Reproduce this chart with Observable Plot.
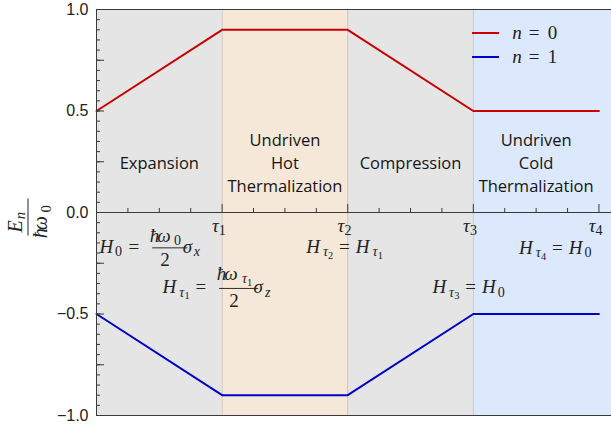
<!DOCTYPE html>
<html><head><meta charset="utf-8">
<script src="https://cdn.jsdelivr.net/npm/d3@7"></script>
<script src="https://cdn.jsdelivr.net/npm/@observablehq/plot@0.6"></script>
<style>html,body{margin:0;padding:0;background:#fff}svg{display:block}</style>
</head><body><div id="chart"></div>
<script>
// ---- data ----
const times = [0, 1, 2, 3, 4];
const energyN0 = [0.5, 0.9, 0.9, 0.5, 0.5];
const energyN1 = [-0.5, -0.9, -0.9, -0.5, -0.5];
const seriesLabels = ["n = 0", "n = 1"];
const seriesColors = ["#c80000", "#0000c8"];
const phaseStart = [0, 1, 2, 3];
const phaseEnd = [1, 2, 3, 4.1];
const phaseLabels = ["Expansion", "Undriven\nHot\nThermalization", "Compression", "Undriven\nCold\nThermalization"];
const phaseFills = ["#e5e5e5", "#f6e8d8", "#e5e5e5", "#dce8fc"];
const tauTicks = [1, 2, 3, 4];
const tauLabels = ["τ_1", "τ_2", "τ_3", "τ_4"];
const yTickValues = [-1, -0.5, 0, 0.5, 1];
const hamText = ["H_0=\\frac{ħω_0}{2}σ_x", "H_{τ_1}=\\frac{ħω_{τ_1}}{2}σ_z", "H_{τ_2}=H_{τ_1}", "H_{τ_3}=H_0", "H_{τ_4}=H_0"];
const hamX = [0.47, 1.0, 2.02, 3.01, 3.7];
const hamY = [-0.2, -0.4, -0.2, -0.4, -0.205];
const yLabelTeX = "\\frac{E_n}{ħω_0}";

// ---- build ----
const lines = seriesLabels.map((s, k) => times.map((t, i) => ({t, e: (k === 0 ? energyN0 : energyN1)[i]})));
const phases = phaseStart.map((x1, i) => ({x1, x2: phaseEnd[i], label: phaseLabels[i], fill: phaseFills[i]}));
const quarterTicks = d3.range(1, 17).map(v => v / 4).filter(v => !tauTicks.includes(v));
const ySmall = d3.range(-20, 21).map(v => v / 20);
const yLarge = d3.range(-4, 5).map(v => v / 4);
const axisColor = "#3a3a3a";

const chart = Plot.plot({
  width: 611, height: 430,
  marginLeft: 96, marginRight: 0, marginTop: 9, marginBottom: 15,
  x: {domain: [0, 4.1], axis: null},
  y: {domain: [-1, 1], label: null},
  color: {type: "identity"},
  style: {background: "#fff", fontFamily: "Liberation Sans", fontSize: "16px", color: "#222"},
  marks: [
    Plot.rect(phases, {x1: "x1", x2: "x2", y1: -1, y2: 1, fill: "fill"}),
    Plot.ruleX(phaseStart.slice(1), {stroke: "#cfc6bc", strokeWidth: 1}),
    Plot.text(phases, {x: d => (d.x1 + Math.min(d.x2, 4)) / 2, y: 0.25, text: "label", lineHeight: 1.4,
      fontFamily: "Open Sans", fontSize: 16.5, fill: "#151515"}),
    ...lines.map((data, k) => Plot.line(data, {x: "t", y: "e", stroke: seriesColors[k], strokeWidth: 2})),
    Plot.ruleY([0], {stroke: axisColor, strokeWidth: 1}),
    Plot.ruleX(quarterTicks, {y1: 0, y2: 0, insetTop: -4, stroke: axisColor}),
    Plot.ruleX(tauTicks, {y1: 0, y2: 0, insetTop: -8, stroke: axisColor}),
    Plot.ruleY(ySmall, {x1: 0, x2: 0, insetRight: -4, stroke: axisColor}),
    Plot.ruleY(yLarge, {x1: 0, x2: 0, insetRight: -8, stroke: axisColor}),
    Plot.ruleX([0], {stroke: axisColor}),
    Plot.ruleY([-1, 1], {stroke: axisColor}),
    Plot.axisY(yTickValues, {tickSize: 0, tickPadding: 8, fontSize: 16, fontFamily: "Liberation Sans", fill: "#222",
      tickFormat: d => (d < 0 ? "\u2212" : "") + Math.abs(d).toFixed(1), label: null})
  ]
});
document.getElementById("chart").append(chart);

// ---- tiny math layout (one <text> per run, tspans inside) ----
function parse(s) {
  let i = 0;
  function atom() {
    if (s.startsWith("\\frac", i)) { i += 5; i++; const num = seq("}"); i++; const den = seq("}"); return {frac: [num, den]}; }
    if (s[i] === "{") { i++; return {group: seq("}")}; }
    return {ch: s[i++]};
  }
  function seq(end) {
    const out = [];
    while (i < s.length && s[i] !== end) {
      if (s[i] === " ") { i++; continue; }
      const a = atom();
      if (s[i] === "_") { i++; a.sub = atom(); }
      out.push(a);
    }
    if (end) i++;
    return out;
  }
  return seq(null);
}
const SUBSCALE = 0.74, SUBSHIFT = 0.18, OPPAD = 0.4;
const isItalic = c => /[A-Za-zħωστ]/.test(c);
function depth(nodes, size) {
  let d = 0;
  for (const n of nodes) {
    if (n.group) d = Math.max(d, depth(n.group, size));
    if (n.sub) d = Math.max(d, size * SUBSHIFT + depth([n.sub], size * SUBSCALE));
  }
  return d;
}
function lastChar(n) {
  if (n.ch) return n.ch;
  if (n.group && n.group.length) return lastChar(n.group[n.group.length - 1]);
  return null;
}
function layout(g, nodes, x, y, size, ctx = {text: null}) {
  const x0 = x;
  for (const n of nodes) {
    if (n.frac) {
      ctx.text = null;
      const gn = g.append("g"), gd = g.append("g");
      const pad = size * 0.12;
      const wn = layout(gn, n.frac[0], 0, 0, size), wd = layout(gd, n.frac[1], 0, 0, size);
      const w = Math.max(wn, wd) + 2 * pad;
      const ax = y - size * 0.25;
      const up = Math.max(size * 0.25, depth(n.frac[0], size) + size * 0.14);
      gn.attr("transform", `translate(${x + (w - wn) / 2},${ax - up})`);
      gd.attr("transform", `translate(${x + (w - wd) / 2},${ax + size * 0.97})`);
      g.append("line").attr("x1", x).attr("x2", x + w).attr("y1", ax).attr("y2", ax)
        .attr("stroke", "#222").attr("stroke-width", Math.max(0.9, size * 0.05));
      x += w;
    } else if (n.group) {
      x += layout(g, n.group, x, y, size, ctx);
    } else {
      const c = n.ch, op = c === "=";
      if (op) x += size * OPPAD;
      if (!ctx.text) ctx.text = g.append("text").style("fill", "#222")
        .style("font-family", "'Liberation Serif', serif");
      const t = ctx.text.append("tspan").attr("x", x).attr("y", y)
        .style("font-size", size + "px")
        .style("font-style", isItalic(c) ? "italic" : "normal")
        .text(c);
      x += t.node().getComputedTextLength();
      if (op) x += size * OPPAD;
    }
    if (n.sub) {
      const lc = lastChar(n);
      const kern = lc && /[A-Z]/.test(lc) ? -size * 0.07 : size * 0.01;
      x += kern;
      x += layout(g, [n.sub], x, y + size * SUBSHIFT, size * SUBSCALE, ctx) + size * 0.03;
    }
  }
  return x - x0;
}
const svg = d3.select(chart);
const sx = chart.scale("x"), sy = chart.scale("y");
const mathLayer = svg.append("g");
function mathAt(tex, cx, baseline, size) {
  const g = mathLayer.append("g");
  const w = layout(g, parse(tex), 0, 0, size);
  g.attr("transform", `translate(${cx - w / 2},${baseline})`);
  return g;
}
const MS = 19;
// Hamiltonians
hamText.forEach((t, i) => mathAt(t, sx.apply(hamX[i]), sy.apply(hamY[i]), MS));
// tau tick labels
tauLabels.forEach((t, i) => mathAt(t, sx.apply(tauTicks[i]) + 1, sy.apply(0) + 20, MS));
// y label
{
  const g = mathLayer.append("g");
  const inner = g.append("g");
  const size = 20;
  const w = layout(inner, parse(yLabelTeX), 0, 0, size);
  inner.attr("transform", `translate(${-w / 2},${size * 0.25})`);
  g.attr("transform", `translate(28,${sy.apply(0) + 5}) rotate(-90)`);
}
// legend
seriesLabels.forEach((lab, k) => {
  const ly = 33 + 24 * k;
  svg.append("line").attr("x1", 472).attr("x2", 499).attr("y1", ly).attr("y2", ly)
    .attr("stroke", seriesColors[k]).attr("stroke-width", 2);
  const g = mathLayer.append("g");
  layout(g, parse(lab.replace(/ /g, "")), 0, 0, MS);
  g.attr("transform", `translate(517,${ly + 6})`);
});
</script>
</body></html>
